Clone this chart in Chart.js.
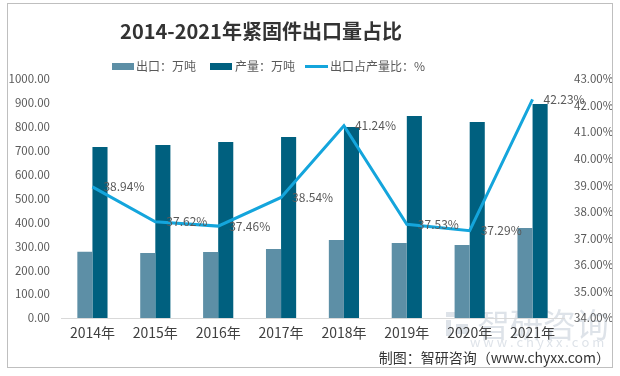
<!DOCTYPE html>
<html><head><meta charset="utf-8">
<script src="https://cdn.jsdelivr.net/npm/chart.js@4"></script>
<style>html,body{margin:0;padding:0;background:#fff}#wrap{width:620px;height:376px;position:relative}</style>
</head><body><div id="wrap"><canvas id="c" width="620" height="376"></canvas></div>
<script>
const categories = ['2014年','2015年','2016年','2017年','2018年','2019年','2020年','2021年'];
const exportVol = [277, 272, 276, 289, 326, 314, 305, 377];
const production = [715, 724, 736, 757, 799, 845, 820, 895];
const exportShare = [38.94, 37.62, 37.46, 38.54, 41.24, 37.53, 37.29, 42.23];
const leftTicks = [0,100,200,300,400,500,600,700,800,900,1000];
const rightTicks = [34,35,36,37,38,39,40,41,42,43];

const FONT = '"Noto Sans CJK SC", "Noto Sans", sans-serif';
const C_EXP = '#5d8fa6', C_PROD = '#00607f', C_LINE = '#14a5dc';

const deco = {
  id: 'deco',
  afterDatasetsDraw(chart) {
    const ctx = chart.ctx;
    const meta = chart.getDatasetMeta(0);
    ctx.save();
    ctx.font = '12px ' + FONT;
    ctx.fillStyle = '#595959';
    ctx.textBaseline = 'middle';
    ctx.textAlign = 'left';
    meta.data.forEach((p, i) => {
      ctx.fillText(exportShare[i].toFixed(2) + '%', p.x + 11, p.y);
    });
    ctx.restore();
  },
  beforeDraw(chart) {
    const ctx = chart.ctx;
    ctx.save();
    // faint watermark
    ctx.fillStyle = 'rgba(200,208,218,0.6)';
    ctx.font = '33px ' + FONT;
    ctx.textBaseline = 'middle';
    ctx.textAlign = 'left';
    ctx.fillText('智研咨询', 477, 324);
    ctx.font = '13px ' + FONT;
    ctx.fillText('w w w . c h y x x . c o m', 470, 342);
    ctx.fillRect(446, 312, 22, 5);
    ctx.fillRect(446, 320, 5, 16);
    ctx.fillRect(456, 324, 12, 10);
    ctx.restore();
  },
  afterDraw(chart) {
    const ctx = chart.ctx;
    ctx.save();
    ctx.strokeStyle = '#bfbfbf';
    ctx.lineWidth = 1;
    ctx.strokeRect(7.5, 3.5, 605, 364);
    ctx.fillStyle = '#333333';
    ctx.font = 'bold 20px ' + FONT;
    ctx.textAlign = 'center';
    ctx.textBaseline = 'middle';
    ctx.fillText('2014-2021年紧固件出口量占比', 261, 31);
    ctx.font = '12px ' + FONT;
    ctx.textAlign = 'left';
    ctx.fillStyle = C_EXP; ctx.fillRect(112, 63, 22, 7);
    ctx.fillStyle = '#595959'; ctx.fillText('出口：万吨', 136, 66);
    ctx.fillStyle = C_PROD; ctx.fillRect(210, 63, 22, 7);
    ctx.fillStyle = '#595959'; ctx.fillText('产量：万吨', 235, 66);
    ctx.strokeStyle = C_LINE; ctx.lineWidth = 3;
    ctx.beginPath(); ctx.moveTo(305, 66.5); ctx.lineTo(328, 66.5); ctx.stroke();
    ctx.fillStyle = '#595959'; ctx.fillText('出口占产量比：%', 330, 66);
    ctx.fillStyle = '#333333';
    ctx.font = '14px ' + FONT;
    ctx.textAlign = 'right';
    ctx.fillText('制图：智研咨询（www.chyxx.com）', 610, 358);
    ctx.restore();
  }
};

new Chart(document.getElementById('c'), {
  data: {
    labels: categories,
    datasets: [
      { type: 'line', label: '出口占产量比：%', data: exportShare, yAxisID: 'y1',
        borderColor: C_LINE, backgroundColor: C_LINE, borderWidth: 3, pointRadius: 0,
        tension: 0, order: 0 },
      { type: 'bar', label: '出口：万吨', data: exportVol, yAxisID: 'y',
        backgroundColor: C_EXP, categoryPercentage: 0.48, barPercentage: 1, order: 1 },
      { type: 'bar', label: '产量：万吨', data: production, yAxisID: 'y',
        backgroundColor: C_PROD, categoryPercentage: 0.48, barPercentage: 1, order: 1 }
    ]
  },
  options: {
    responsive: false,
    animation: false,
    devicePixelRatio: 1,
    layout: { padding: { top: 79, bottom: 28, left: 0, right: 0 } },
    plugins: { legend: { display: false }, title: { display: false }, tooltip: { enabled: false } },
    scales: {
      x: {
        grid: { display: false, drawTicks: false },
        border: { display: true, color: '#d9d9d9' },
        ticks: { color: '#404040', font: { size: 14, family: FONT }, padding: 6, maxRotation: 0 },
        afterFit(s) { s.height = 30; }
      },
      y: {
        position: 'left', min: 0, max: 1000,
        afterBuildTicks(s) { s.ticks = leftTicks.map(v => ({ value: v })); },
        grid: { display: false, drawTicks: false },
        border: { display: false },
        ticks: { color: '#595959', font: { size: 11.5, family: FONT }, padding: 11,
                 callback: v => v.toFixed(2) },
        afterFit(s) { s.width = 61; }
      },
      y1: {
        position: 'right', min: 34, max: 43,
        afterBuildTicks(s) { s.ticks = rightTicks.map(v => ({ value: v })); },
        grid: { display: false, drawTicks: false },
        border: { display: false },
        ticks: { color: '#595959', font: { size: 11.5, family: FONT }, padding: 10,
                 callback: v => v.toFixed(2) + '%' },
        afterFit(s) { s.width = 56; }
      }
    }
  },
  plugins: [deco]
});
</script>
</body></html>
